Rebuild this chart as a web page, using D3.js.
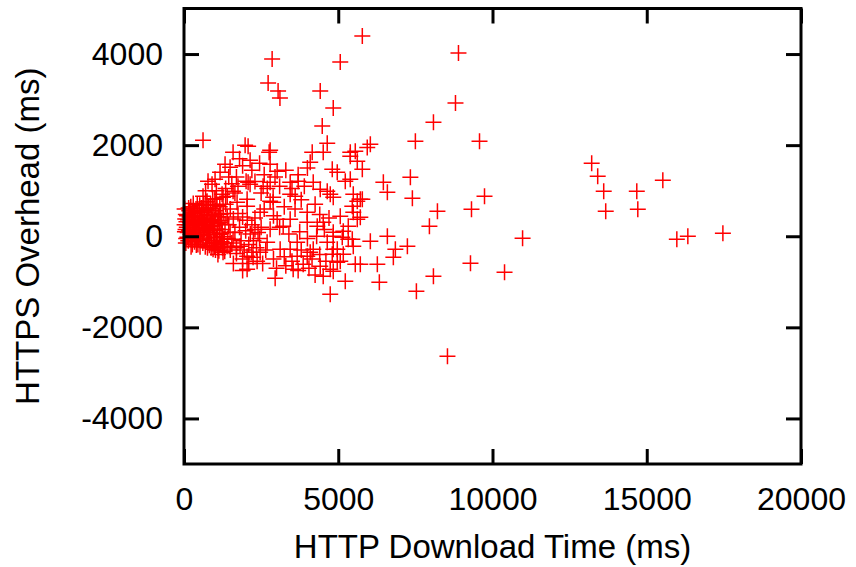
<!DOCTYPE html>
<html>
<head>
<meta charset="utf-8">
<script src="https://cdn.jsdelivr.net/npm/d3@7/dist/d3.min.js"></script>
<style>
  html, body { margin: 0; padding: 0; background: #fff; }
  svg { display: block; }
  text { font-family: "Liberation Sans", Arial, Helvetica, sans-serif; fill: #000; }
</style>
</head>
<body>
<svg id="chart" width="856" height="567"></svg>
<script>
// HTTP download time (ms) vs. HTTPS overhead (ms), one [time, overhead] pair per page.

// Pages that load almost instantly
const nearOrigin = [
  [50,150],[80,320],[120,80],[150,250],[180,420],[200,-30],[230,180],[260,520],[290,60],[310,350],
  [340,-120],[360,230],[390,600],[410,120],[440,380],[460,-60],[490,270],[510,680],[530,30],[560,450],
  [580,190],[610,-150],[630,330],[650,90],[680,520],[700,250],[720,-40],[750,400],[770,160],[800,620],
  [820,-200],[850,300],[870,80],[900,480],[920,220],[950,-100],[980,370],[1000,130],[1030,560],[1060,-20],
  [1090,280],[1120,430],[1150,40],[1180,-180],[1210,340],[1240,150],[1270,500],[1300,-60],[100,450],[140,-100],
  [220,650],[270,-180],[330,500],[380,-10],[430,700],[470,150],[520,-230],[570,620],[620,20],[660,380],
  [710,750],[760,-90],[810,210],[860,700],[890,-160],[940,610],[990,-220],[1040,820],[1100,-260],[1160,650],
  [1220,-120],[40,380],[70,-50],[170,560],[240,-80],[300,720],[350,420],[400,-190],[450,550],[500,460],
  [540,-80],[590,310],[640,690],[690,-230],[740,580],[790,40],[840,450],[880,-250],[930,820],[970,40],
  [1020,-300],[1070,680],[1130,-320],[1190,480],[1250,-250],[1320,-330],[1350,700],[1400,420],[1420,-50],[1450,250],
  [1500,600],[1550,-150],[1600,380],[1650,80],[1700,-250],[1750,500],[1800,200],[1850,-100],[1900,420],[1950,-300],
  [2000,120],[2050,350],[2100,-180],[2150,50],[2200,250],[2250,-100],[2300,150],[2350,-250],[2400,80],[2450,-50],
  [2500,200],
  [20,250],[30,100],[60,480],[90,200],[110,-20],[130,360],[160,120],[190,300],[210,40],[250,420],
  [280,230],[320,140],[350,-40],[370,330],[420,260],[480,70],[550,350],[600,250],[670,160],[730,300],
  [780,470],[830,120],[910,350],[960,240],[1010,-150],[1080,160],[1140,300],[1200,60],[1260,-10],[1330,260],
  [20,600],[60,-150],[150,620],[230,-230],[330,280],[450,-180],[610,560],[760,-250],[880,330],[1010,480]
];

// Upper fan between 500 and 5000 ms
const upperFan = [
  [4643,2044],[1981,2000],[2078,1978],[2792,1890],[2760,1846],[2143,1670],[4156,1846],[4513,1846],[4091,1626],[2792,1582],
  [4806,1473],[3020,1429],[1591,1846],[1331,1582],[1494,1517],[1169,1407],[2078,1187],[2013,1209],[2143,1143],[1007,1253],
  [909,1143],[779,1209],[2565,1099],[2792,1187],[3442,1187],[3702,1209],[4189,1187],[4416,1033],[3442,923],[3604,879],
  [4643,989],[4838,857],[2890,857],[2792,769],[1234,923],[1266,857],[617,879],[747,769],[2046,813],[1591,989]
];

// Body of the cloud between 1000 and 5000 ms
const mainBody = [
  [1721,747],[2046,659],[2468,527],[2890,747],[3020,374],[2792,154],[3215,220],[3442,374],[3669,-132],[3994,527],
  [3994,308],[4319,220],[4513,308],[4838,88],[4643,-132],[4189,-286],[3994,-440],[3669,-440],[3442,-286],[3117,-286],
  [2695,-132],[2468,-352],[2240,-462],[2046,-440],[1818,-220],[1591,-66],[1494,88],[1266,-352],[1396,-220],[2046,-725],
  [2370,-550],[3539,-725],[3864,-615],[4091,-352],[4416,-659],[4513,-879],[4741,-725],[4968,-571],[4838,-286],[942,-286],
  [1072,-132],
  [1450,1300],[1550,1150],[1050,1000],[1350,1050],[700,1000],[1000,820],[1400,880],[1650,950],[1700,1300],[1800,1700],
  [1900,1550],[1750,1100],[2200,1450],[2300,1200],[2450,1600],[2600,1350],[2500,950],[2700,1050],[2950,1300],[3100,1100],
  [3300,1450],[3500,1050],[3700,1350],[3900,1100],[4000,1500],[3250,650],[3600,600],[3800,800],[4250,700],[4400,480],
  [2300,400],[2600,600],[2900,450],[3100,200],[3400,50],[3750,100],[4000,-50],[4300,0],[4550,150],[4700,400],
  [2650,-300],[2900,-500],[3250,-450],[3500,-550],[3800,-300],[4150,-500],[4400,-400],[4600,-550],[2200,-350],[2550,-600],
  [3000,-700],[3300,-650],[3700,-750],[4050,-700],[4250,-850],[1900,-500],[1700,-380],[1500,-300],[1600,-600],[2100,-600],
  [1300,-150],[1100,-400],[1900,-750]
];

// Right edge of the cloud, around 5000-6000 ms
const cloudEdge = [
  [4968,1407],[5228,1209],[5390,1253],[5780,1473],[5617,1649],[5390,1758],[5552,1868],[4741,923],[5487,923],[5780,813],
  [5617,769],[5455,659],[5487,527],[5065,440],[5715,418],[5617,374],[5325,220],[5163,110],[4838,0],[5130,-22],
  [5325,-66],[5455,-66],[5487,-220],[4968,-286],[4806,-396],[5163,-396],[5065,-550],[5552,-615],[5715,-615],[4838,-769]
];

// Scattered pages with large overhead, either sign
const scattered = [
  [2857,3890],[2727,3363],[3050,3187],[3110,3033],[4416,3187],[4838,2813],[4481,2418],[5780,4396],[5065,3824],[6040,2022],
  [5940,1950],[5390,1846],[6462,1187],[6592,967],[5715,813],[6851,-286],[6786,-462],[6040,-110],[6592,0],[6332,-1011],
  [5228,-989],[6267,-615],[4740,-1275],[2955,-923],[617,2110]
];

// Slow pages, beyond 7000 ms
const slowPages = [
  [7338,1297],[7403,835],[7500,2088],[7955,220],[8086,2505],[8085,-879],[8215,550],[8540,-2637],[8800,2923],[8897,4022],
  [9286,-593],[9319,593],[9579,2088],[9741,879],[10390,-791],[10975,-44],[13215,1605],[13410,1319],[13605,989],[13670,550],
  [14677,989],[14710,593],[15521,1231],[15975,-66],[16332,0],[17468,66],[7241,-220],[7533,-1209]
];

const xTicks = [0, 5000, 10000, 15000, 20000];
const yTicks = [-4000, -2000, 0, 2000, 4000];
const xTitle = "HTTP Download Time (ms)";
const yTitle = "HTTPS Overhead (ms)";

const points = [].concat(nearOrigin, upperFan, mainBody, cloudEdge, scattered, slowPages);

const svg = d3.select("#chart");
const plotLeft = 184, plotRight = 801, plotTop = 8.5, plotBottom = 464;

const x = d3.scaleLinear().domain([0, 20000]).range([plotLeft, plotRight]);
const y = d3.scaleLinear().domain([-5000, 5000]).range([plotBottom, plotTop]);

// "+" markers
const arm = 8;
svg.append("g")
  .selectAll("path")
  .data(points)
  .join("path")
  .attr("transform", d => `translate(${x(d[0])},${y(d[1])})`)
  .attr("d", `M${-arm},0H${arm}M0,${-arm}V${arm}`)
  .attr("fill", "none")
  .attr("stroke", "#ff0000")
  .attr("stroke-width", 1.5);

// Axes with inward ticks on all four sides; plain hyphen for negatives
const tickLen = 15;
const plainNumber = d => String(d);
function styleAxis(g) {
  g.select(".domain").remove();
  g.selectAll(".tick line").attr("stroke", "#000").attr("stroke-width", 3);
  g.selectAll(".tick text").attr("font-size", 32).attr("fill", "#000")
    .style("font-family", '"Liberation Sans", Arial, Helvetica, sans-serif');
}

svg.append("g")
  .attr("transform", `translate(0,${plotBottom})`)
  .call(d3.axisBottom(x).tickValues(xTicks).tickSize(-tickLen).tickPadding(23).tickFormat(plainNumber))
  .call(styleAxis);

svg.append("g")
  .attr("transform", `translate(${plotLeft},0)`)
  .call(d3.axisLeft(y).tickValues(yTicks).tickSize(-tickLen).tickPadding(21).tickFormat(plainNumber))
  .call(styleAxis);

svg.append("g")
  .attr("transform", `translate(0,${plotTop})`)
  .call(d3.axisTop(x).tickValues(xTicks).tickSize(-tickLen).tickFormat(""))
  .call(styleAxis);

svg.append("g")
  .attr("transform", `translate(${plotRight},0)`)
  .call(d3.axisRight(y).tickValues(yTicks).tickSize(-tickLen).tickFormat(""))
  .call(styleAxis);

// Plot border
svg.append("rect")
  .attr("x", plotLeft).attr("y", plotTop)
  .attr("width", plotRight - plotLeft).attr("height", plotBottom - plotTop)
  .attr("fill", "none").attr("stroke", "#000").attr("stroke-width", 3);

// Axis titles
svg.append("text")
  .attr("x", (plotLeft + plotRight) / 2).attr("y", 558)
  .attr("text-anchor", "middle")
  .attr("font-size", 33)
  .text(xTitle);

svg.append("text")
  .attr("transform", `translate(39,${(plotTop + plotBottom) / 2}) rotate(-90)`)
  .attr("text-anchor", "middle")
  .attr("font-size", 33)
  .text(yTitle);
</script>
</body>
</html>
